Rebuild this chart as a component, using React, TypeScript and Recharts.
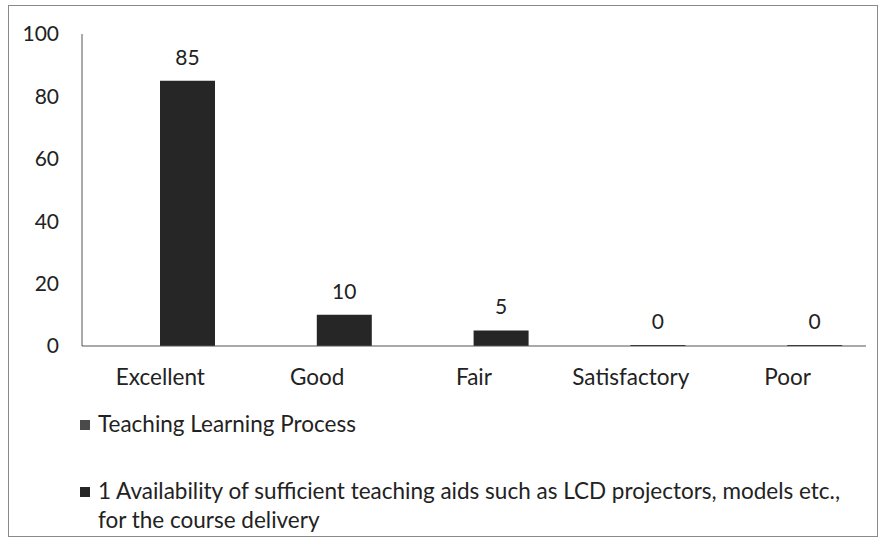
import { BarChart, Bar, XAxis, YAxis, LabelList } from 'recharts';

const categories = ['Excellent', 'Good', 'Fair', 'Satisfactory', 'Poor'];
const processValues: (number | null)[] = [null, null, null, null, null];
const availabilityValues = [85, 10, 5, 0, 0];
const yTicks = [0, 20, 40, 60, 80, 100];
const seriesNames = [
    'Teaching Learning Process',
    '1 Availability of sufficient teaching aids such as LCD projectors, models etc., for the course delivery',
];
const COLORS = ['#4a4a4a', '#262626'];
const FONT = "Lato, 'Open Sans', sans-serif";

const data = categories.map((name, i) => ({
    name,
    process: processValues[i],
    availability: availabilityValues[i],
}));

export default function App() {
    return (
        <div style={{ position: 'absolute', left: 0, top: 0, width: 880, height: 537, background: '#fff', overflow: 'hidden' }}>
            <div style={{ position: 'absolute', left: 8, top: 5, width: 868, height: 530, border: '1px solid #8a8a8a' }} />
            <BarChart
                width={880}
                height={537}
                data={data}
                margin={{ top: 34, right: 14, left: 12, bottom: 161 }}
                barGap={0}
                style={{ position: 'absolute', left: 0, top: 0 }}
            >
                <YAxis
                    width={70}
                    domain={[0, 100]}
                    ticks={yTicks}
                    tickLine={false}
                    tickSize={4}
                    tickMargin={19}
                    axisLine={{ stroke: '#555' }}
                    tick={{ fill: '#222', fontSize: 21, fontFamily: FONT }}
                />
                <XAxis
                    dataKey="name"
                    height={30}
                    tickLine={false}
                    tickMargin={17}
                    axisLine={{ stroke: '#555' }}
                    tick={{ fill: '#222', fontSize: 22.5, fontFamily: FONT }}
                />
                <Bar dataKey="process" name={seriesNames[0]} fill={COLORS[0]} barSize={55} isAnimationActive={false} />
                <Bar dataKey="availability" name={seriesNames[1]} fill={COLORS[1]} barSize={55} minPointSize={1} isAnimationActive={false}>
                    <LabelList dataKey="availability" position="top" offset={16} fill="#222" fontSize={21} fontFamily={FONT} />
                </Bar>
            </BarChart>
            {/* legend drawn outside so it doesn't eat into the plot height */}
            <div style={{ position: 'absolute', left: 80, top: 409, width: 790, fontFamily: FONT, fontSize: 22.5, color: '#222', lineHeight: '29px' }}>
                {seriesNames.map((n, i) => (
                    <div key={i} style={{ display: 'flex', alignItems: 'flex-start', marginBottom: i === 0 ? 38 : 0 }}>
                        <span style={{ display: 'inline-block', width: 10, height: 10, background: COLORS[i], marginTop: 11, marginRight: 8, flex: '0 0 auto' }} />
                        <span>{n}</span>
                    </div>
                ))}
            </div>
        </div>
    );
}
